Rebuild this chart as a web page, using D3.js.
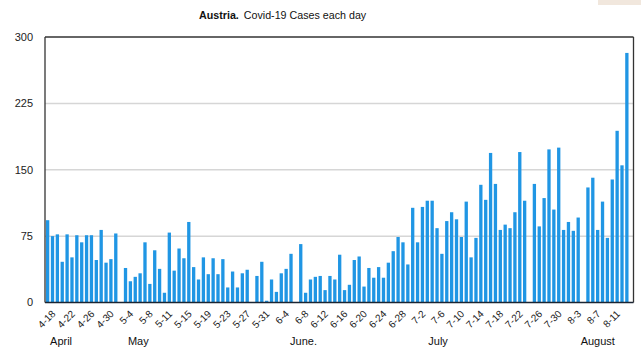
<!DOCTYPE html>
<html>
<head>
<meta charset="utf-8">
<script src="https://cdn.jsdelivr.net/npm/d3@7"></script>
<style>
  html, body { margin: 0; padding: 0; background: #fff; }
  svg { display: block; font-family: "Liberation Sans", Arial, Helvetica, sans-serif; }
</style>
</head>
<body>
<svg id="chart" width="641" height="355"></svg>
<script>
// Daily new Covid-19 cases in Austria, one bar per day starting 4-18
const values = [
  93, 75, 77, 46, 77, 51, 76, 68, 76, 76, 48, 82, 45, 49, 78, 0,
  39, 24, 29, 33, 68, 21, 59, 38, 11, 79, 36, 61, 50, 91, 40, 26,
  51, 32, 50, 32, 49, 17, 35, 17, 33, 37, 0, 30, 46, 2, 26, 12,
  33, 38, 55, 0, 66, 11, 26, 29, 30, 14, 30, 26, 54, 14, 20, 48,
  52, 18, 39, 28, 40, 28, 45, 58, 74, 68, 43, 107, 68, 108, 115, 115,
  84, 55, 92, 102, 94, 74, 114, 51, 73, 133, 116, 169, 134, 82, 88, 84,
  102, 170, 115, 0, 134, 86, 118, 173, 105, 175, 82, 91, 81, 96, 0, 130,
  141, 82, 114, 73, 139, 194, 155, 282
];
// tick labels, one every 4th bar starting with the first
const tickLabels = ["4-18","4-22","4-26","4-30","5-4","5-8","5-11","5-15","5-19","5-23",
  "5-27","5-31","6-4","6-8","6-12","6-16","6-20","6-24","6-28","7-2","7-6","7-10",
  "7-14","7-18","7-22","7-26","7-30","8-3","8-7","8-11"];
const tickEvery = 4;
const yTicks = [0, 75, 150, 225, 300];
const months = ["April", "May", "June.", "July", "August"];
const monthPos = [1, 17, 50.3, 78.7, 110]; // in bar slots from the left
const titleBold = "Austria.";
const titleRest = "Covid-19 Cases each day";

const svg = d3.select("#chart");
const plot = { left: 45, right: 633.5, top: 37, bottom: 302.5 };
const barsRight = 629.3;

// decorative beige patch in the top-right corner
svg.append("rect").attr("x", 598).attr("y", 0).attr("width", 43).attr("height", 5).attr("fill", "#f1e7dd");

const x = d3.scaleBand().domain(d3.range(values.length)).range([plot.left + 0.2, barsRight]).paddingInner(0.32).paddingOuter(0.16);
const slot = d3.scaleLinear().domain([0, values.length]).range([plot.left + 0.2, barsRight]);
const y = d3.scaleLinear().domain([0, 300]).range([plot.bottom, plot.top]);

// gridlines
svg.append("g").selectAll("line").data(yTicks.filter(t => t > 0 && t < 300)).join("line")
  .attr("x1", plot.left).attr("x2", plot.right)
  .attr("y1", d => y(d)).attr("y2", d => y(d))
  .attr("stroke", "#d6d6d6").attr("stroke-width", 1.5);

// bars
svg.append("g").selectAll("rect").data(values).join("rect")
  .attr("x", (d, i) => x(i)).attr("width", x.bandwidth())
  .attr("y", d => y(d)).attr("height", d => y(0) - y(d))
  .attr("fill", "#2096e4");

// frame
svg.append("line").attr("x1", plot.left).attr("x2", plot.right).attr("y1", plot.top).attr("y2", plot.top)
  .attr("stroke", "#333").attr("stroke-width", 1.4);
svg.append("line").attr("x1", plot.right).attr("x2", plot.right).attr("y1", plot.top).attr("y2", plot.bottom)
  .attr("stroke", "#333").attr("stroke-width", 1.3);
svg.append("line").attr("x1", plot.left).attr("x2", plot.left).attr("y1", plot.top).attr("y2", plot.bottom)
  .attr("stroke", "#333").attr("stroke-width", 1.3);
svg.append("line").attr("x1", plot.left).attr("x2", plot.right).attr("y1", plot.bottom).attr("y2", plot.bottom)
  .attr("stroke", "#1b2533").attr("stroke-width", 1.5);

// y tick labels
svg.append("g").selectAll("text").data(yTicks).join("text")
  .attr("x", 33).attr("y", d => y(d)).attr("dy", "0.35em")
  .attr("text-anchor", "end").attr("font-size", 11).attr("fill", "#222")
  .text(d => d);

// x tick labels
svg.append("g").selectAll("text").data(tickLabels).join("text")
  .attr("text-anchor", "end").attr("font-size", 10).attr("fill", "#222")
  .attr("transform", (d, k) => {
    const i = k * tickEvery;
    const cx = x(i) + x.bandwidth() / 2;
    return `translate(${cx + 8.5},${plot.bottom + 12}) rotate(-45)`;
  })
  .text(d => d);

// month labels
svg.append("g").selectAll("text").data(months).join("text")
  .attr("x", (d, i) => slot(monthPos[i])).attr("y", 345)
  .attr("font-size", 11).attr("fill", "#111")
  .text(d => d);

// title
const t = svg.append("text").attr("x", 199).attr("y", 18.5).attr("font-size", 10.7).attr("fill", "#111");
t.append("tspan").attr("font-weight", "bold").text(titleBold);
t.append("tspan").attr("dx", 5).text(titleRest);
</script>
</body>
</html>
